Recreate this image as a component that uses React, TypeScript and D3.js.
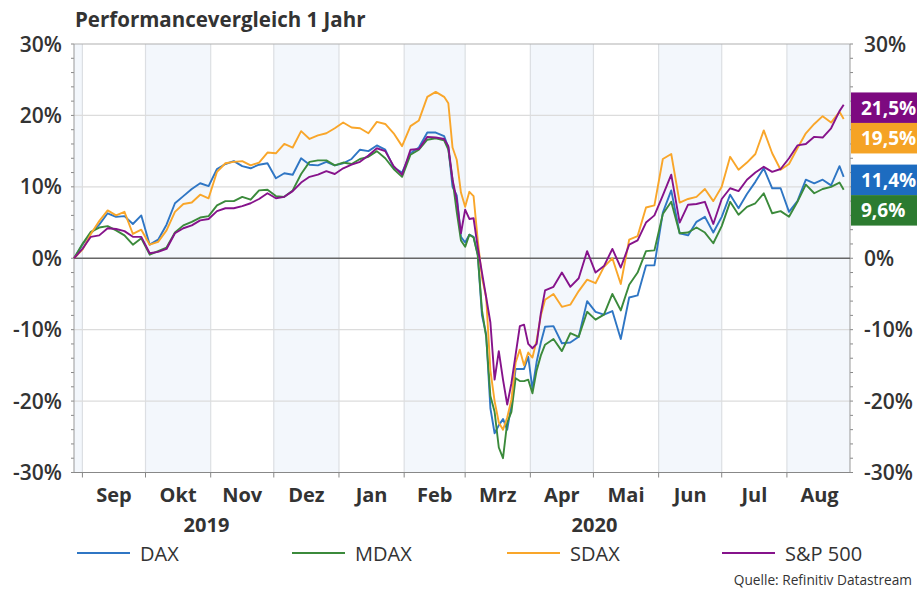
import React, { useEffect, useRef } from 'react';
import * as d3 from 'd3';

// Beobachtungstage (alle 4 Tage, im Crash alle 2 Tage)
const dates = [
  '2019-08-28', '2019-09-01', '2019-09-05', '2019-09-09', '2019-09-13', '2019-09-17', '2019-09-21', '2019-09-25', '2019-09-29', '2019-10-03',
  '2019-10-07', '2019-10-11', '2019-10-15', '2019-10-19', '2019-10-23', '2019-10-27', '2019-10-31', '2019-11-04', '2019-11-08', '2019-11-12',
  '2019-11-16', '2019-11-20', '2019-11-24', '2019-11-28', '2019-12-02', '2019-12-06', '2019-12-10', '2019-12-14', '2019-12-18', '2019-12-22',
  '2019-12-26', '2019-12-30', '2020-01-03', '2020-01-07', '2020-01-11', '2020-01-15', '2020-01-19', '2020-01-23', '2020-01-27', '2020-01-31',
  '2020-02-04', '2020-02-08', '2020-02-12', '2020-02-16',
  '2020-02-20', '2020-02-22', '2020-02-24', '2020-02-26', '2020-02-28', '2020-03-01', '2020-03-03', '2020-03-05', '2020-03-07', '2020-03-09',
  '2020-03-11', '2020-03-13', '2020-03-15', '2020-03-17', '2020-03-19', '2020-03-21', '2020-03-23', '2020-03-25', '2020-03-27', '2020-03-29',
  '2020-03-31', '2020-04-02', '2020-04-04', '2020-04-06', '2020-04-08',
  '2020-04-12', '2020-04-16', '2020-04-20', '2020-04-24', '2020-04-28', '2020-05-02', '2020-05-06', '2020-05-10', '2020-05-14', '2020-05-18',
  '2020-05-22', '2020-05-26', '2020-05-30', '2020-06-03', '2020-06-07', '2020-06-11', '2020-06-15', '2020-06-19',
  '2020-06-23', '2020-06-27', '2020-07-01', '2020-07-05', '2020-07-09', '2020-07-13', '2020-07-17', '2020-07-21', '2020-07-25', '2020-07-29',
  '2020-08-02', '2020-08-06', '2020-08-10', '2020-08-14', '2020-08-18', '2020-08-22', '2020-08-26',
  '2020-08-28'
];

const dax = [
  0, 1.9, 3.5, 4.7, 6.3, 5.8, 5.9, 4.8, 6.0, 1.9,
  2.6, 4.7, 7.7, 8.7, 9.7, 10.5, 10.1, 12.5, 13.2, 13.6,
  12.9, 12.6, 13.1, 13.3, 11.2, 11.9, 11.7, 14.0, 13.1, 13.0,
  13.5, 13.0, 13.3, 13.9, 15.2, 15.0, 15.8, 15.2, 12.7, 12.0,
  14.7, 15.5, 17.6, 17.6,
  17.1, 15.5, 10.0, 8.8, 3.0, 2.2, 3.3, 3.0, 0.5, -8.0,
  -10.7, -21.0, -24.5, -23.4, -22.5, -24.0, -20.5, -15.5, -15.5, -15.5,
  -13.8, -18.3, -14.5, -11.8, -9.6,
  -9.5, -11.9, -11.8, -11.0, -6.0, -7.5, -7.9, -7.4, -11.3, -5.5,
  -5.2, -1.0, -1.0, 6.4, 9.5, 3.5, 3.2, 5.1,
  5.8, 3.6, 5.8, 8.9, 7.0, 9.0, 10.7, 12.6, 9.8, 9.8,
  6.5, 8.0, 11.0, 10.5, 11.0, 10.2, 12.9,
  11.4
];

const mdax = [
  0, 2.0, 3.7, 4.3, 4.5, 3.9, 3.2, 1.9, 2.8, 0.5,
  1.0, 1.5, 3.6, 4.6, 5.1, 5.7, 5.9, 7.4, 8.0, 8.0,
  8.6, 8.2, 9.5, 9.6, 8.7, 8.6, 9.5, 11.8, 13.5, 13.7,
  13.7, 13.0, 13.4, 13.2, 13.9, 14.2, 15.0, 14.0, 12.5, 11.4,
  14.5, 15.2, 16.6, 16.8,
  16.5, 15.2, 11.0, 6.5, 2.5, 1.6, 3.3, 2.9, 0.4, -7.3,
  -11.0, -19.3, -21.5, -26.5, -28.0, -23.0, -21.5, -16.8, -17.2, -17.2,
  -17.0, -18.9, -15.7, -13.6, -12.1,
  -11.3, -13.0, -10.5, -11.0, -7.5, -8.6, -7.9, -5.0, -7.3, -3.7,
  -2.0, 1.0, 1.1, 6.2, 7.9, 3.5, 3.6, 4.3,
  3.6, 2.1, 4.5, 7.9, 6.1, 7.2, 7.7, 9.1, 6.3, 6.6,
  5.8, 7.9, 10.3, 9.1, 9.7, 10.0, 10.6,
  9.6
];

const sdax = [
  0, 1.2, 3.4, 5.2, 6.7, 6.0, 6.5, 3.4, 4.0, 1.9,
  2.3, 3.9, 6.5, 7.6, 7.8, 8.9, 8.4, 12.1, 13.3, 13.5,
  13.6, 13.0, 13.4, 14.8, 14.7, 16.0, 15.5, 17.8, 16.7, 17.2,
  17.5, 18.2, 19.0, 18.3, 18.2, 17.5, 19.1, 18.8, 17.5, 15.7,
  18.5, 19.3, 22.6, 23.3,
  22.6, 21.7, 15.5, 13.8, 9.2, 7.2, 9.3, 8.7, 2.5, -2.7,
  -5.5, -15.7, -20.0, -23.0, -24.0, -22.3, -19.8, -14.6, -12.8, -15.0,
  -13.2, -13.9, -11.5, -8.0, -5.8,
  -5.0, -6.8, -6.5, -4.6, -3.0, -3.5, -1.2, 0.0, -3.6, 2.6,
  3.1, 7.1, 7.4, 13.9, 14.6, 7.8, 8.3, 8.6,
  9.7, 8.0, 10.0, 14.2, 12.4, 13.4, 14.6, 17.9, 14.7, 12.4,
  13.2, 15.4, 17.5, 18.8, 19.9, 19.0, 20.5,
  19.5
];

const sp500 = [
  0, 1.3, 3.0, 3.2, 4.2, 4.1, 3.8, 3.0, 3.0, 0.7,
  0.9, 1.3, 3.5, 4.2, 4.6, 5.3, 5.5, 6.6, 7.0, 7.0,
  7.3, 7.7, 8.3, 9.1, 8.4, 8.6, 9.4, 10.6, 11.4, 11.7,
  12.2, 11.8, 12.6, 13.1, 13.5, 14.4, 15.4, 15.0, 12.9, 11.7,
  15.2, 15.3, 17.0, 16.9,
  16.7, 15.7, 11.0, 8.2, 3.5, 6.8, 5.5, 5.6, 1.5, -2.0,
  -5.5, -9.0, -17.0, -13.0, -17.0, -20.5, -17.5, -13.5, -9.5, -9.3,
  -12.0, -12.6, -12.0, -7.7, -4.5,
  -4.0, -2.0, -4.0, -2.8, 1.0, -2.0, -1.1, 1.3, -1.3, 1.9,
  2.5, 5.0, 6.0, 8.8, 11.7, 5.0, 7.5, 7.6,
  7.9, 4.8, 8.3, 9.8, 9.4, 11.0, 12.0, 12.8, 12.1, 12.5,
  14.0, 15.8, 16.0, 17.0, 16.9, 18.2, 20.6,
  21.5
];

const seriesNames = ['DAX', 'MDAX', 'SDAX', 'S&P 500'];
const lineColors = ['#2f76c4', '#3b8a3b', '#f9a62a', '#86138b'];
const labelColors = ['#1d6cc0', '#2c7b30', '#f5a325', '#7d0a80'];
const monthNames = ['Sep', 'Okt', 'Nov', 'Dez', 'Jan', 'Feb', 'Mrz', 'Apr', 'Mai', 'Jun', 'Jul', 'Aug'];
const yearLabels = ['2019', '2020'];
const yTicks = [-30, -20, -10, 0, 10, 20, 30];

const FONT = '"Open Sans", "Noto Sans", sans-serif';

function App() {
  const ref = useRef(null);

  useEffect(() => {
    document.body.style.margin = '0';
    const svg = d3.select(ref.current);
    svg.selectAll('*').remove();

    const left = 74, right = 850, top = 44, bottom = 472.5;
    const parse = d3.timeParse('%Y-%m-%d');
    const days = dates.map(d => parse(d));

    const x = d3.scaleTime()
      .domain([new Date(2019, 7, 28), new Date(2020, 7, 31)])
      .range([left, right]);
    const y = d3.scaleLinear().domain([-30, 30]).range([bottom, top]);

    // alternating month bands
    const months = d3.timeMonth.range(new Date(2019, 7, 1), new Date(2020, 8, 1));
    const [d0, d1] = x.domain();
    svg.append('g')
      .selectAll('rect')
      .data(months.filter(m => m.getMonth() % 2 === 1))
      .enter()
      .append('rect')
      .attr('x', m => x(m < d0 ? d0 : m))
      .attr('width', m => {
        const e = d3.timeMonth.offset(m, 1);
        return x(e > d1 ? d1 : e) - x(m < d0 ? d0 : m);
      })
      .attr('y', top)
      .attr('height', bottom - top)
      .attr('fill', '#f3f7fc');

    const monthStarts = months.filter(m => m > d0);

    // grid
    svg.append('g')
      .selectAll('line')
      .data(monthStarts)
      .enter()
      .append('line')
      .attr('x1', m => x(m)).attr('x2', m => x(m))
      .attr('y1', top).attr('y2', bottom)
      .attr('stroke', '#dcdfe3').attr('stroke-width', 1.2);

    svg.append('g')
      .selectAll('line')
      .data(yTicks.filter(t => t !== 0 && t !== -30))
      .enter()
      .append('line')
      .attr('x1', left).attr('x2', right)
      .attr('y1', t => y(t)).attr('y2', t => y(t))
      .attr('stroke', t => (t === 30 ? '#b0b0b0' : '#dcdcdc')).attr('stroke-width', 1.2);

    // minor ticks
    const minor = d3.range(-30, 31, 2);
    svg.append('g')
      .selectAll('line')
      .data(minor)
      .enter()
      .append('line')
      .attr('x1', left - 3).attr('x2', left)
      .attr('y1', t => y(t)).attr('y2', t => y(t))
      .attr('stroke', '#888');
    svg.append('g')
      .selectAll('line')
      .data(minor)
      .enter()
      .append('line')
      .attr('x1', right).attr('x2', right + 3)
      .attr('y1', t => y(t)).attr('y2', t => y(t))
      .attr('stroke', '#888');

    // axes lines
    svg.append('line').attr('x1', left).attr('x2', left).attr('y1', top).attr('y2', bottom).attr('stroke', '#999');
    svg.append('line').attr('x1', right).attr('x2', right).attr('y1', top).attr('y2', bottom).attr('stroke', '#999');
    svg.append('line').attr('x1', left).attr('x2', right).attr('y1', bottom).attr('y2', bottom).attr('stroke', '#888').attr('stroke-width', 1.2);
    svg.append('g')
      .selectAll('line')
      .data(monthStarts)
      .enter()
      .append('line')
      .attr('x1', m => x(m)).attr('x2', m => x(m))
      .attr('y1', bottom).attr('y2', bottom + 5)
      .attr('stroke', '#888');

    // zero line
    svg.append('line')
      .attr('x1', left).attr('x2', right)
      .attr('y1', y(0)).attr('y2', y(0))
      .attr('stroke', '#666').attr('stroke-width', 1.5);

    // end labels, stacked without overlap
    const allSeries = [dax, mdax, sdax, sp500];
    const boxH = 30.5;
    const ends = allSeries.map((s, i) => ({ i, v: s[s.length - 1], cy: y(s[s.length - 1]) + 3 }))
      .sort((a, b) => b.v - a.v);
    for (let k = 1; k < ends.length; k++) {
      const prev = ends[k - 1];
      if (ends[k].cy < prev.cy + boxH) ends[k].cy = prev.cy + boxH;
    }
    const covered = (t: number) => ends.some(e => Math.abs(y(t) - e.cy) < boxH / 2 + 4);

    // y labels
    const fmtPct = (t: number) => `${t}%`;
    svg.append('g')
      .selectAll('text')
      .data(yTicks)
      .enter()
      .append('text')
      .attr('x', 62).attr('y', t => y(t) + 7.5)
      .attr('text-anchor', 'end')
      .style('font-family', FONT).style('font-size', '21px').style('font-weight', 600)
      .style('fill', '#333')
      .text(fmtPct);
    svg.append('g')
      .selectAll('text')
      .data(yTicks.filter(t => !covered(t)))
      .enter()
      .append('text')
      .attr('x', 864).attr('y', t => y(t) + 7.5)
      .style('font-family', FONT).style('font-size', '21px').style('font-weight', 600)
      .style('fill', '#333')
      .text(fmtPct);

    // month labels
    svg.append('g')
      .selectAll('text')
      .data(monthStarts)
      .enter()
      .append('text')
      .attr('x', m => (x(m) + x(d3.timeMonth.offset(m, 1))) / 2)
      .attr('y', 502)
      .attr('text-anchor', 'middle')
      .style('font-family', FONT).style('font-size', '20px').style('font-weight', 700)
      .style('fill', '#333')
      .text((m, i) => monthNames[i]);

    const yearSpans = [[d0, new Date(2020, 0, 1)], [new Date(2020, 0, 1), d1]];
    svg.append('g')
      .selectAll('text')
      .data(yearSpans)
      .enter()
      .append('text')
      .attr('x', s => (x(s[0]) + x(s[1])) / 2)
      .attr('y', 532)
      .attr('text-anchor', 'middle')
      .style('font-family', FONT).style('font-size', '20px').style('font-weight', 700)
      .style('fill', '#333')
      .text((s, i) => yearLabels[i]);

    // lines
    const line = d3.line<number>()
      .x((v, i) => x(days[i]))
      .y(v => y(v));
    svg.append('g')
      .selectAll('path')
      .data(allSeries)
      .enter()
      .append('path')
      .attr('d', s => line(s))
      .attr('fill', 'none')
      .attr('stroke', (s, i) => lineColors[i])
      .attr('stroke-width', 1.9)
      .attr('stroke-linejoin', 'round');

    const endG = svg.append('g')
      .selectAll('g')
      .data(ends)
      .enter()
      .append('g')
      .attr('transform', e => `translate(851,${e.cy - boxH / 2})`);
    endG.append('rect')
      .attr('width', 70).attr('height', boxH)
      .attr('fill', e => labelColors[e.i]);
    endG.append('text')
      .attr('x', 10).attr('y', boxH / 2 + 7)
      .style('font-family', FONT).style('font-size', '19px').style('font-weight', 700)
      .style('fill', '#fff')
      .text(e => e.v.toFixed(1).replace('.', ',') + '%');

    // title
    svg.append('text')
      .attr('x', 75).attr('y', 27)
      .style('font-family', FONT).style('font-size', '20.5px').style('font-weight', 700)
      .style('fill', '#333')
      .text('Performancevergleich 1 Jahr');

    // legend
    const lg = svg.append('g')
      .selectAll('g')
      .data(seriesNames)
      .enter()
      .append('g')
      .attr('transform', (n, i) => `translate(${77 + i * 215},553)`);
    lg.append('line')
      .attr('x1', 0).attr('x2', 53)
      .attr('stroke', (n, i) => lineColors[i]).attr('stroke-width', 1.8);
    lg.append('text')
      .attr('x', 63).attr('y', 7.5)
      .style('font-family', FONT).style('font-size', '20px')
      .style('fill', '#333')
      .text(n => n);

    svg.append('text')
      .attr('x', 912).attr('y', 585)
      .attr('text-anchor', 'end')
      .style('font-family', FONT).style('font-size', '13.7px')
      .style('fill', '#333')
      .text('Quelle: Refinitiv Datastream');
  }, []);

  return <svg ref={ref} width={917} height={592} style={{ display: 'block', background: '#fff' }} />;
}

export default App;
